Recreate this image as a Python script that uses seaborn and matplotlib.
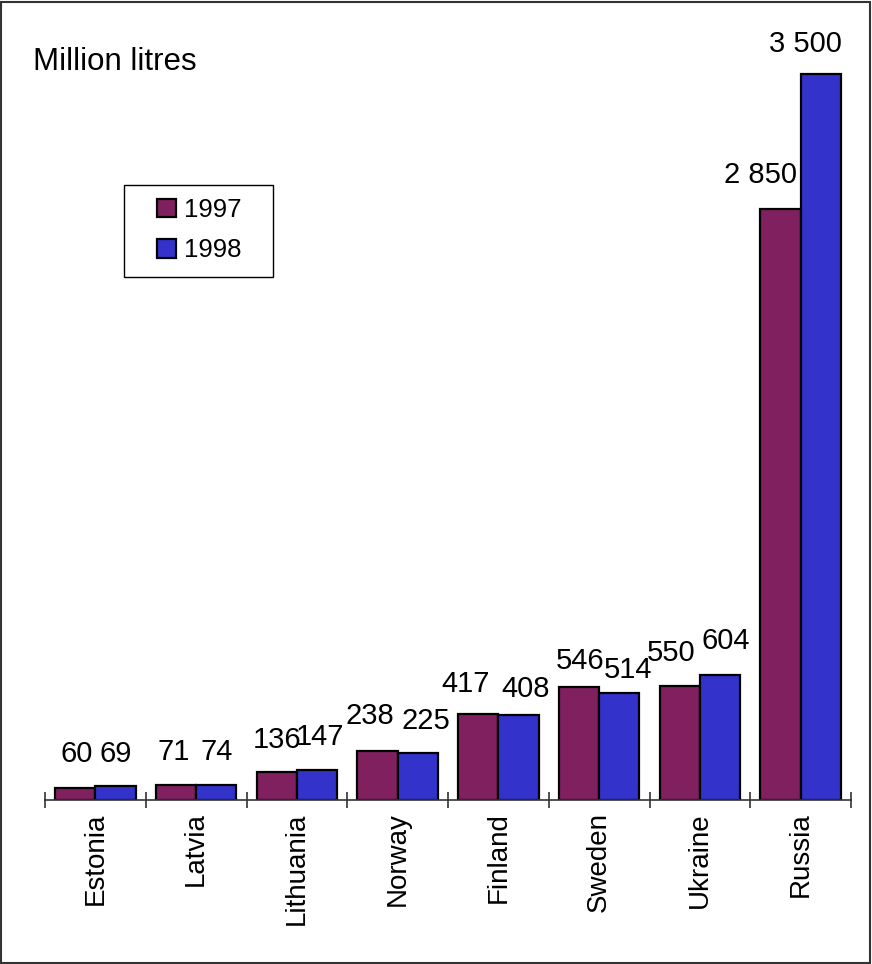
import matplotlib
matplotlib.use("Agg")
import matplotlib.pyplot as plt
from matplotlib.patches import Rectangle
import seaborn as sns
import pandas as pd

countries = ["Estonia", "Latvia", "Lithuania", "Norway", "Finland", "Sweden", "Ukraine", "Russia"]
years = ["1997", "1998"]
values_1997 = [60, 71, 136, 238, 417, 546, 550, 2850]
values_1998 = [69, 74, 147, 225, 408, 514, 604, 3500]
colors = ["#80205F", "#3333CC"]

# label nudges in pixels (dx, height of label centre above bar top)
label_nudge_1997 = [(1, 34), (-2, 33), (0, 32), (-8, 35), (-13, 30), (1, 26), (-9, 33), (-20, 34)]
label_nudge_1998 = [(0, 32), (0, 33), (3, 33), (8, 32), (7, 26), (9, 23), (6, 34), (-15, 30)]

df = pd.DataFrame({
    "country": countries * 2,
    "year": [years[0]] * len(countries) + [years[1]] * len(countries),
    "value": values_1997 + values_1998,
})

sns.set_theme(style="white")
plt.rcParams["font.family"] = ["Liberation Sans", "DejaVu Sans"]
plt.rcParams["text.color"] = "black"
plt.rcParams["xtick.color"] = "black"

W, H = 872, 964
PX = 72 / 100  # points per pixel at dpi 100
fig = plt.figure(figsize=(W / 100, H / 100), dpi=100)
ax_left, ax_right = 45 / W, 851 / W
ax_bottom, ax_top = 1 - 800 / H, 1 - 20 / H
ax = fig.add_axes([ax_left, ax_bottom, ax_right - ax_left, ax_top - ax_bottom])

sns.barplot(data=df, x="country", y="value", hue="year", order=countries,
            hue_order=years, palette=colors, edgecolor="black", linewidth=1.6,
            width=0.8, saturation=1, ax=ax, legend=False)

ymax = 3500 * (800 - 20) / (800 - 74)
ax.set_ylim(0, ymax)
ax.set_xlim(-0.5, len(countries) - 0.5)

# value labels above each bar
for container, nudges in zip(ax.containers, [label_nudge_1997, label_nudge_1998]):
    for bar, v, (dx, dy) in zip(container.patches, container.datavalues, nudges):
        text = f"{v:,.0f}".replace(",", " ")
        ax.annotate(text, (bar.get_x() + bar.get_width() / 2, bar.get_height()),
                    xytext=(dx * PX, dy * PX), textcoords="offset points",
                    ha="center", va="center", fontsize=21, color="black")

# axes styling: only the baseline, ticks on category boundaries
for side in ["left", "right", "top"]:
    ax.spines[side].set_visible(False)
ax.spines["bottom"].set_color("#333333")
ax.spines["bottom"].set_linewidth(1.2)
ax.set_yticks([])
ax.set_xlabel("")
ax.set_ylabel("")
ax.set_xticks(range(len(countries)))
ax.set_xticklabels(countries, rotation=90, fontsize=20)
ax.tick_params(axis="x", which="major", length=0, pad=9)
ax.set_xticks([i - 0.5 for i in range(len(countries) + 1)], minor=True)
ax.tick_params(axis="x", which="minor", direction="inout", length=11,
               width=1.2, color="#333333", bottom=True)

fig.text(33 / W, 1 - 70 / H, "Million litres", fontsize=22.5, ha="left", va="baseline")

# legend: square handles inside a plain box
handles = [Rectangle((0, 0), 1, 1, facecolor=c, edgecolor="black", linewidth=1.6) for c in colors]
leg = fig.legend(handles, years, loc="center left",
                 bbox_to_anchor=(157 / W, 1 - 230 / H), fontsize=18.5,
                 frameon=False, handlelength=0.72, handleheight=0.72,
                 handletextpad=0.35, labelspacing=0.65, borderpad=0, borderaxespad=0)
fig.add_artist(Rectangle((124 / W, 1 - 277 / H), (273 - 124) / W, (277 - 185) / H,
                         transform=fig.transFigure, fill=False,
                         linewidth=1.0, edgecolor="black"))

fig.add_artist(Rectangle((1 / W, 1 / H), (W - 3) / W, (H - 3) / H,
                         transform=fig.transFigure, fill=False,
                         linewidth=1.5, edgecolor="#333333"))

fig.savefig("out.png", dpi=100, facecolor="white")
